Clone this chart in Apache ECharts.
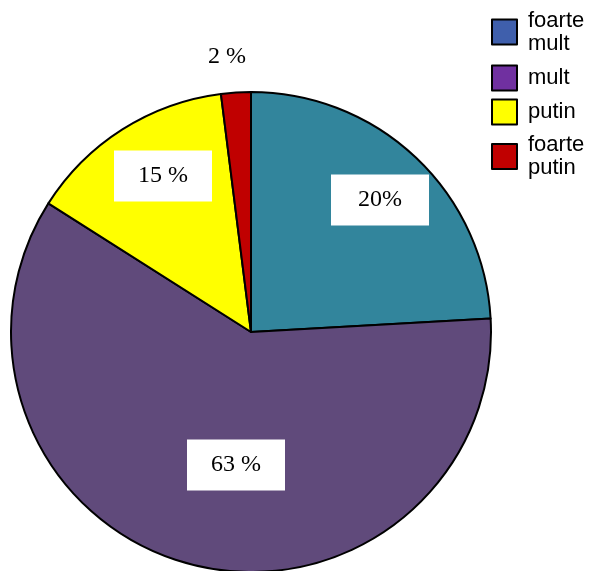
<!DOCTYPE html>
<html>
<head>
<meta charset="utf-8">
<script src="https://cdn.jsdelivr.net/npm/echarts@6/dist/echarts.min.js"></script>
<style>html,body{margin:0;padding:0;background:#fff;}#c{width:590px;height:571px;}</style>
</head>
<body>
<div id="c"></div>
<script>
// Data
const categories = ['foarte mult', 'mult', 'putin', 'foarte putin'];
const values = [24.1, 59.9, 14.0, 2.0];           // slice sizes
const labelTexts = ['20%', '63 %', '15 %', '2 %']; // labels as printed on the chart
const sliceColors = ['#32859C', '#604A7B', '#FFFF00', '#C00000'];
const legendColors = ['#3F5FAC', '#7030A0', '#FFFF00', '#C00000'];

// layout (pixels)
const labelPos = [[380, 200], [236, 465], [163, 176], [227, 57]];
const legendTops = [9, 64.5, 98.5, 133.5];

const chart = echarts.init(document.getElementById('c'), null, {renderer: 'canvas'});
const option = {
  animation: false,
  backgroundColor: '#ffffff',
  legend: categories.map((n, i) => ({
    orient: 'vertical',
    left: 491,
    top: legendTops[i],
    padding: 0,
    itemWidth: 25,
    itemHeight: 25,
    icon: 'rect',
    selectedMode: false,
    formatter: function (name) { return name.replace(' ', '\n'); },
    textStyle: {
      fontFamily: 'Liberation Sans, Arial, sans-serif', fontSize: 22, lineHeight: 23,
      color: '#000', padding: [0, 0, 0, 6]
    },
    data: [{
      name: n,
      itemStyle: { color: legendColors[i], borderColor: '#000', borderWidth: 2 }
    }]
  })),
  series: [{
    type: 'pie',
    center: [251, 332],
    radius: 240,
    startAngle: 90,
    clockwise: true,
    silent: true,
    emphasis: { disabled: true },
    itemStyle: { borderColor: '#000', borderWidth: 2 },
    labelLine: { show: false },
    label: {
      show: true,
      position: 'inside',
      formatter: function (p) { return labelTexts[p.dataIndex]; },
      fontFamily: 'Liberation Serif, Times New Roman, serif',
      fontSize: 24,
      color: '#000',
      backgroundColor: '#ffffff',
      width: 98,
      align: 'center',
      lineHeight: 24,
      padding: [13, 0, 14, 0]
    },
    labelLayout: function (p) {
      const pos = labelPos[p.dataIndex];
      return { x: pos[0], y: pos[1], align: 'center', verticalAlign: 'middle' };
    },
    data: categories.map((n, i) => ({
      name: n,
      value: values[i],
      itemStyle: { color: sliceColors[i] },
      label: i === 3 ? { backgroundColor: 'transparent' } : {}
    }))
  }]
};
chart.setOption(option);
</script>
</body>
</html>
